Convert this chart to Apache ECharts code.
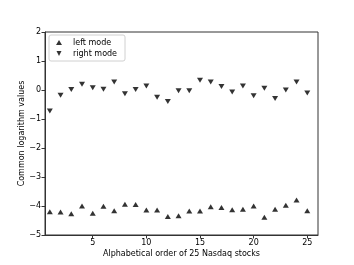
<!DOCTYPE html>
<html><head><meta charset="utf-8">
<script src="https://cdn.jsdelivr.net/npm/echarts@6/dist/echarts.min.js"></script>
<style>html,body{margin:0;padding:0;background:#fff}#c{width:354px;height:265px}</style>
</head><body><div id="c"></div>
<script>
const stockIndex = [1,2,3,4,5,6,7,8,9,10,11,12,13,14,15,16,17,18,19,20,21,22,23,24,25];
const leftMode = [-4.20,-4.21,-4.27,-4.00,-4.25,-4.01,-4.16,-3.94,-3.95,-4.14,-4.14,-4.36,-4.34,-4.17,-4.17,-4.03,-4.05,-4.13,-4.11,-4.00,-4.39,-4.11,-3.97,-3.79,-4.16];
const rightMode = [-0.72,-0.18,0.02,0.20,0.08,0.03,0.28,-0.13,0.02,0.14,-0.25,-0.40,-0.03,-0.03,0.34,0.28,0.12,-0.07,0.14,-0.20,0.06,-0.29,0.00,0.28,-0.10];
const xTicks = [5,10,15,20,25];
const seriesNames = ['left mode','right mode'];
const xTitle = 'Alphabetical order of 25 Nasdaq stocks';
const yTitle = 'Common logarithm values';

const font = 'DejaVu Sans';
const fs = 8;
const chart = echarts.init(document.getElementById('c'), null, {renderer:'canvas'});
const pair = (vals) => vals.map((v,i)=>[stockIndex[i], v]);
chart.setOption({
  animation:false,
  textStyle:{fontFamily:font},
  grid:{left:45,right:36,top:32,bottom:30,show:true,borderColor:'#333',borderWidth:1,backgroundColor:'transparent'},
  legend:{
    orient:'vertical', left:49, top:35,
    data:[{name:seriesNames[0],icon:'triangle'},{name:seriesNames[1],icon:'path://M0,0L2,0L1,2Z'}],
    itemWidth:6, itemHeight:5, itemGap:2,
    padding:[3,8,3,7],
    borderColor:'#d0d0d0', borderWidth:1, borderRadius:2,
    textStyle:{fontFamily:font,fontSize:fs,color:'#000',padding:[0,0,0,6],lineHeight:9}
  },
  xAxis:{
    type:'value', min:0.55, max:26,
    name:xTitle, nameLocation:'middle', nameGap:15, nameMoveOverlap:false,
    nameTextStyle:{fontFamily:font,fontSize:fs,color:'#000',verticalAlign:'top'},
    splitLine:{show:false},
    axisLine:{show:true,onZero:false,lineStyle:{color:'#333',width:1}},
    axisTick:{show:true,length:3.5,lineStyle:{color:'#333'},customValues:xTicks},
    axisLabel:{fontFamily:font,fontSize:fs,color:'#000',margin:4,customValues:xTicks}
  },
  yAxis:{
    type:'value', min:-5, max:2, interval:1,
    name:yTitle, nameLocation:'middle', nameGap:19, nameMoveOverlap:false,
    nameTextStyle:{fontFamily:font,fontSize:fs,color:'#000'},
    splitLine:{show:false},
    axisLine:{show:true,onZero:false,lineStyle:{color:'#333',width:1}},
    axisTick:{show:true,length:3.5,lineStyle:{color:'#333'}},
    axisLabel:{fontFamily:font,fontSize:fs,color:'#000',margin:4,
      formatter:v=> v<0 ? '\u2212'+Math.abs(v) : String(v)}
  },
  series:[
    {name:seriesNames[0],type:'scatter',data:pair(leftMode),symbol:'triangle',symbolSize:[6,5],itemStyle:{color:'#000'}},
    {name:seriesNames[1],type:'scatter',data:pair(rightMode),symbol:'triangle',symbolRotate:180,symbolSize:[6,5],itemStyle:{color:'#000'}}
  ]
});
</script></body></html>
